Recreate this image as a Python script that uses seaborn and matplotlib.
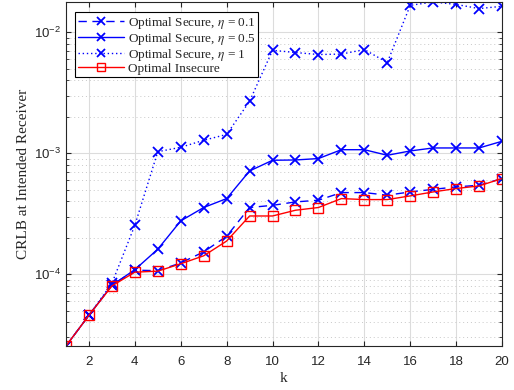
import numpy as np
import pandas as pd
import matplotlib
matplotlib.use("Agg")
import matplotlib.pyplot as plt
import seaborn as sns
from matplotlib.ticker import LogLocator, FixedLocator

k = list(range(1, 21))

# CRLB values
secure_eta01 = [2.55e-5, 4.58e-5, 8.1e-5, 1.08e-4, 1.07e-4, 1.24e-4, 1.53e-4, 2.06e-4, 3.56e-4, 3.71e-4,
                3.96e-4, 4.09e-4, 4.73e-4, 4.73e-4, 4.5e-4, 4.79e-4, 5.03e-4, 5.27e-4, 5.44e-4, 6.18e-4]
secure_eta05 = [2.55e-5, 4.58e-5, 8.1e-5, 1.09e-4, 1.61e-4, 2.76e-4, 3.56e-4, 4.22e-4, 7.14e-4, 8.75e-4,
                8.8e-4, 9.04e-4, 1.07e-3, 1.07e-3, 9.62e-4, 1.045e-3, 1.106e-3, 1.106e-3, 1.106e-3, 1.256e-3]
secure_eta1 = [2.55e-5, 4.58e-5, 8.4e-5, 2.54e-4, 1.03e-3, 1.12e-3, 1.28e-3, 1.43e-3, 2.69e-3, 7.1e-3,
               6.8e-3, 6.55e-3, 6.6e-3, 7.2e-3, 5.62e-3, 1.67e-2, 1.78e-2, 1.70e-2, 1.57e-2, 1.64e-2]
insecure = [2.55e-5, 4.58e-5, 8.0e-5, 1.04e-4, 1.06e-4, 1.22e-4, 1.42e-4, 1.88e-4, 3.03e-4, 3.03e-4,
            3.38e-4, 3.56e-4, 4.22e-4, 4.14e-4, 4.14e-4, 4.44e-4, 4.79e-4, 5.11e-4, 5.37e-4, 6.18e-4]

labels = [r'Optimal Secure, $\eta$ = 0.1', r'Optimal Secure, $\eta$ = 0.5',
          r'Optimal Secure, $\eta$ = 1', 'Optimal Insecure']

sns.set_style("ticks")
plt.rcParams['font.family'] = ['Liberation Sans', 'DejaVu Sans']
plt.rcParams['mathtext.fontset'] = 'stix'

fig = plt.figure(figsize=(5.14, 3.90), dpi=100)
ax = fig.add_axes([0.1284, 0.1128, 0.8483, 0.8821])

blue = '#0000ff'
red = '#ff0000'
xkw = dict(color=blue, lw=1.0, marker='x', markersize=7, markeredgewidth=1.3,
           markeredgecolor=blue, markerfacecolor=blue)
sns.lineplot(x=k, y=secure_eta01, ax=ax, linestyle=(0, (6, 4)), label=labels[0], **xkw)
sns.lineplot(x=k, y=secure_eta05, ax=ax, linestyle='-', label=labels[1], **xkw)
sns.lineplot(x=k, y=secure_eta1, ax=ax, linestyle=(0, (1, 2)), label=labels[2], **xkw)
sns.lineplot(x=k, y=insecure, ax=ax, color=red, lw=1.0, linestyle='-', marker='s', markersize=7.5,
             markerfacecolor='none', markeredgecolor=red, markeredgewidth=1.0, label=labels[3])

ax.set_yscale('log')
ax.set_xlim(1, 20)
ax.set_ylim(2.55e-5, 1.78e-2)
ax.xaxis.set_major_locator(FixedLocator(range(2, 21, 2)))
ax.yaxis.set_major_locator(LogLocator(base=10, numticks=10))
ax.yaxis.set_minor_locator(LogLocator(base=10, subs=np.arange(2, 10), numticks=10))

ax.grid(True, which='major', color='#dcdcdc', lw=0.8, ls='-')
ax.grid(True, which='minor', axis='y', color='#c8c8c8', lw=0.7, ls=(0, (1, 3)))
ax.set_axisbelow(True)

ax.tick_params(which='both', direction='in', top=True, right=True, colors='#262626',
               labelsize=9.5, length=3.5)
ax.tick_params(axis='x', pad=7)
ax.tick_params(which='minor', length=2)
for s in ax.spines.values():
    s.set_color('#262626')
    s.set_linewidth(0.8)

ax.set_xlabel('k', family=['Liberation Serif'], fontsize=11, labelpad=3)
ax.set_ylabel('CRLB at Intended Receiver', family=['Liberation Serif'], fontsize=11, labelpad=3)

leg = ax.legend(loc='upper left', bbox_to_anchor=(0.021, 0.971), frameon=True, fancybox=False,
                edgecolor='black', framealpha=1, borderpad=0.2, labelspacing=0.0,
                handlelength=3.5, handletextpad=0.3, borderaxespad=0, markerscale=0.8,
                prop={'family': 'Liberation Serif', 'size': 9.5})
leg.get_frame().set_linewidth(0.8)

fig.savefig('out.png', dpi=100)
